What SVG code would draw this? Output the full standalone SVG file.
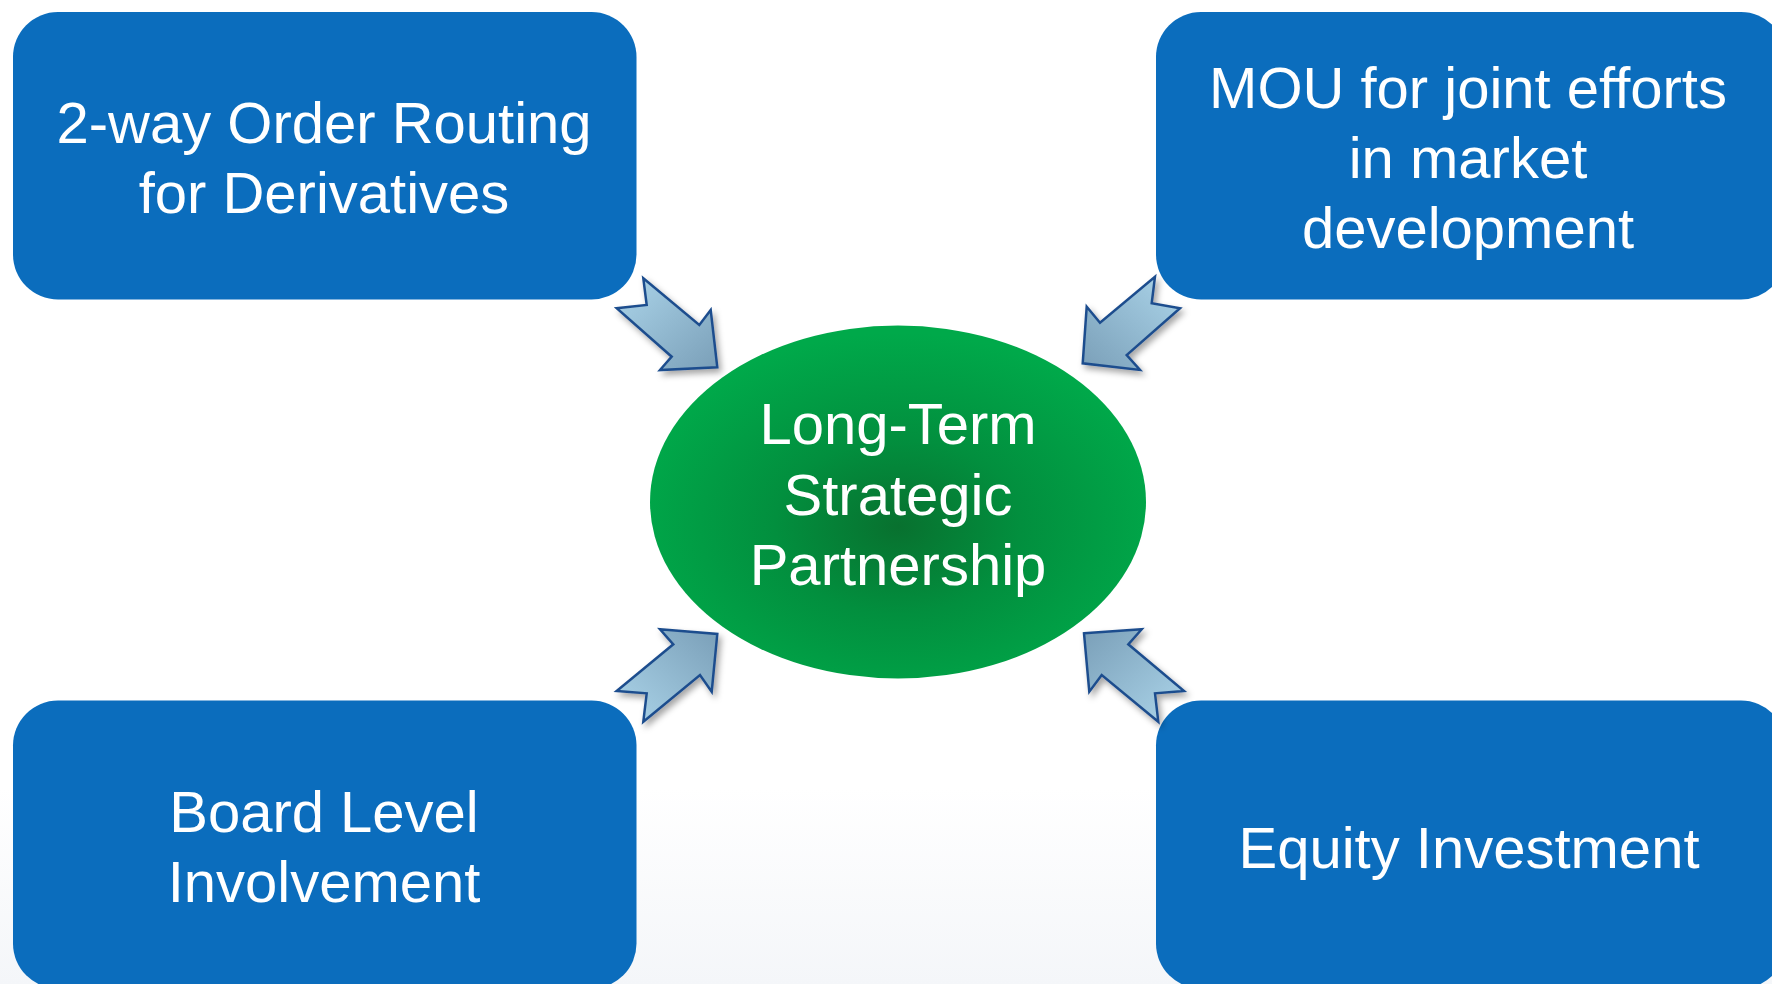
<svg xmlns="http://www.w3.org/2000/svg" width="1772" height="984" viewBox="0 0 1772 984">
  <defs>
    <linearGradient id="bg" x1="0" y1="0" x2="0" y2="1">
      <stop offset="0" stop-color="#ffffff"/>
      <stop offset="0.8" stop-color="#ffffff"/>
      <stop offset="1" stop-color="#f4f6f9"/>
    </linearGradient>
    <radialGradient id="green" cx="0.5" cy="0.57" r="0.55">
      <stop offset="0" stop-color="#08712f"/>
      <stop offset="0.45" stop-color="#028f3e"/>
      <stop offset="1" stop-color="#00a94a"/>
    </radialGradient>
    <linearGradient id="aTL" x1="0" y1="0" x2="1" y2="1">
      <stop offset="0" stop-color="#acd5ea"/>
      <stop offset="1" stop-color="#7a9fb8"/>
    </linearGradient>
    <linearGradient id="aTR" x1="1" y1="0" x2="0" y2="1">
      <stop offset="0" stop-color="#acd5ea"/>
      <stop offset="1" stop-color="#7a9fb8"/>
    </linearGradient>
    <linearGradient id="aBL" x1="0" y1="1" x2="1" y2="0">
      <stop offset="0" stop-color="#acd5ea"/>
      <stop offset="1" stop-color="#7a9fb8"/>
    </linearGradient>
    <linearGradient id="aBR" x1="1" y1="1" x2="0" y2="0">
      <stop offset="0" stop-color="#acd5ea"/>
      <stop offset="1" stop-color="#7a9fb8"/>
    </linearGradient>
    <filter id="shadow" x="-30%" y="-30%" width="160%" height="160%">
      <feDropShadow dx="3" dy="4" stdDeviation="3" flood-color="#000" flood-opacity="0.35"/>
    </filter>
  </defs>
  <style>
    .box { fill: #0b6dbd; }
    .t { font-family: "Liberation Sans", Arial, sans-serif; font-size: 58px; fill: #ffffff; text-anchor: middle; }
    .arrow { stroke: #1f4e8e; stroke-width: 2.5; stroke-linejoin: miter; filter: url(#shadow); }
  </style>
  <rect x="0" y="0" width="1772" height="984" fill="url(#bg)"/>

  <g id="node-order-routing">
    <rect class="box" x="13" y="12" width="623.5" height="287.5" rx="45" ry="45"/>
    <text class="t" x="324" y="143">2-way Order Routing</text>
    <text class="t" x="324" y="213">for Derivatives</text>
  </g>

  <g id="node-mou">
    <rect class="box" x="1156" y="12" width="630" height="287.5" rx="45" ry="45"/>
    <text class="t" x="1468" y="108">MOU for joint efforts</text>
    <text class="t" x="1468" y="178">in market</text>
    <text class="t" x="1468" y="248">development</text>
  </g>

  <g id="node-board">
    <rect class="box" x="13" y="700.5" width="623.5" height="288" rx="45" ry="45"/>
    <text class="t" x="324" y="832">Board Level</text>
    <text class="t" x="324" y="902">Involvement</text>
  </g>

  <g id="node-equity">
    <rect class="box" x="1156" y="700.5" width="630" height="288" rx="45" ry="45"/>
    <text class="t" x="1469" y="868">Equity Investment</text>
  </g>

  <g id="node-partnership">
    <ellipse cx="898" cy="502" rx="248" ry="176.5" fill="url(#green)"/>
    <text class="t" x="898" y="444">Long-Term</text>
    <text class="t" x="898" y="515">Strategic</text>
    <text class="t" x="898" y="585">Partnership</text>
  </g>

  <g id="connectors">
    <polygon class="arrow" fill="url(#aTL)" points="643.3,278.3 699.3,325 710.7,310 717.3,367.3 660,370 671.7,356.7 616.7,308.3 646.7,305"/>
    <polygon class="arrow" fill="url(#aTR)" points="1155,276.7 1151.7,303.3 1180,308.3 1126.7,355 1140,370 1082.7,363.3 1086.7,306.7 1100,322.7"/>
    <polygon class="arrow" fill="url(#aBL)" points="616.7,691 673.3,644.3 660,629.3 717.3,634 711.7,691.7 700,675 643.3,721.7 646.7,693.3"/>
    <polygon class="arrow" fill="url(#aBR)" points="1084,633.3 1141.7,629.3 1128.3,644.3 1184,691 1155,693.3 1158.3,721.7 1101.7,675 1089.3,691.7"/>
  </g>
</svg>
